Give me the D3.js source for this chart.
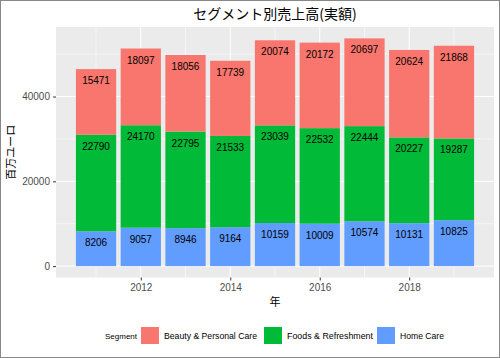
<!DOCTYPE html>
<html><head><meta charset="utf-8">
<script src="https://cdn.jsdelivr.net/npm/d3@7"></script>
<style>body{margin:0;background:#fff}svg{display:block}</style>
</head><body>
<script>
const years = [2011, 2012, 2013, 2014, 2015, 2016, 2017, 2018, 2019];
const homeCare = [8206, 9057, 8946, 9164, 10159, 10009, 10574, 10131, 10825];
const foods = [22790, 24170, 22795, 21533, 23039, 22532, 22444, 20227, 19287];
const beauty = [15471, 18097, 18056, 17739, 20074, 20172, 20697, 20624, 21868];
const segments = ["Beauty & Personal Care", "Foods & Refreshment", "Home Care"];
const colors = ["#F8766D", "#00BA38", "#619CFF"];
const xTicks = [2012, 2014, 2016, 2018];
const yTicks = [0, 20000, 40000];

const W = 500, H = 358;
const font = "'Liberation Sans', Arial, 'Noto Sans CJK JP', sans-serif";
const cjk = "'Noto Sans CJK JP', 'Liberation Sans', sans-serif";
const svg = d3.select("body").append("svg").attr("width", W).attr("height", H)
  .style("font-family", font);
svg.append("rect").attr("x", 0.5).attr("y", 0.5).attr("width", W - 1).attr("height", H - 1)
  .attr("fill", "#fff").attr("stroke", "#888");

const pL = 56, pR = 494, pT = 27, pB = 277.5;
const rows = years.map((y, i) => ({year: y, "Home Care": homeCare[i], "Foods & Refreshment": foods[i], "Beauty & Personal Care": beauty[i]}));
const stackOrder = ["Home Care", "Foods & Refreshment", "Beauty & Personal Care"];
const series = d3.stack().keys(stackOrder)(rows);
const maxT = d3.max(series[series.length - 1], d => d[1]);

const x = d3.scaleLinear().domain([2010.55 - 0.445, 2019.45 + 0.445]).range([pL, pR]);
const y = d3.scaleLinear().domain([-maxT * 0.05, maxT * 1.05]).range([pB, pT]);
const color = d3.scaleOrdinal().domain(segments).range(colors);

svg.append("rect").attr("x", pL).attr("y", pT).attr("width", pR - pL).attr("height", pB - pT).attr("fill", "#EBEBEB");
const g = svg.append("g");
[10000, 30000, 50000].forEach(v => g.append("line").attr("x1", pL).attr("x2", pR).attr("y1", y(v)).attr("y2", y(v)).attr("stroke", "#fff").attr("stroke-width", 0.5));
[2011, 2013, 2015, 2017, 2019].forEach(v => g.append("line").attr("y1", pT).attr("y2", pB).attr("x1", x(v)).attr("x2", x(v)).attr("stroke", "#fff").attr("stroke-width", 0.5));
yTicks.forEach(v => g.append("line").attr("x1", pL).attr("x2", pR).attr("y1", y(v)).attr("y2", y(v)).attr("stroke", "#fff").attr("stroke-width", 1));
xTicks.forEach(v => g.append("line").attr("y1", pT).attr("y2", pB).attr("x1", x(v)).attr("x2", x(v)).attr("stroke", "#fff").attr("stroke-width", 1));

const bw = x(2011.45) - x(2010.55);
series.forEach(s => {
  svg.append("g").selectAll("rect").data(s).join("rect")
    .attr("x", d => x(d.data.year) - bw / 2).attr("width", bw)
    .attr("y", d => y(d[1])).attr("height", d => y(d[0]) - y(d[1]))
    .attr("fill", color(s.key));
  svg.append("g").selectAll("text").data(s).join("text")
    .attr("x", d => x(d.data.year)).attr("y", d => y(d[1]) + 15)
    .attr("text-anchor", "middle").attr("font-size", 10).attr("fill", "#000")
    .text(d => d.data[s.key]);
});

const xa = svg.append("g").attr("transform", `translate(0,${pB})`)
  .call(d3.axisBottom(x).tickValues(xTicks).tickFormat(d3.format("d")).tickSize(3).tickPadding(3));
const ya = svg.append("g").attr("transform", `translate(${pL},0)`)
  .call(d3.axisLeft(y).tickValues(yTicks).tickFormat(d3.format("d")).tickSize(3).tickPadding(3));
[xa, ya].forEach(a => {
  a.select(".domain").remove();
  a.selectAll("line").attr("stroke", "#333");
  a.selectAll("text").attr("fill", "#4D4D4D").attr("font-size", 10).attr("font-family", font);
});

svg.append("text").attr("x", (pL + pR) / 2).attr("y", 19).attr("text-anchor", "middle")
  .attr("font-family", cjk).attr("font-size", 14).attr("fill", "#000").text("セグメント別売上高(実額)");
svg.append("text").attr("x", (pL + pR) / 2).attr("y", 306).attr("text-anchor", "middle")
  .attr("font-family", cjk).attr("font-size", 11).attr("fill", "#000").text("年");
svg.append("text").attr("transform", `translate(15,${(pT + pB) / 2}) rotate(-90)`).attr("text-anchor", "middle")
  .attr("font-family", cjk).attr("font-size", 11).attr("fill", "#000").text("百万ユーロ");

const leg = svg.append("g");
leg.append("text").attr("x", 105).attr("y", 339).attr("font-size", 8).attr("fill", "#000").text("Segment");
const keyX = [141, 264, 377];
const labW = [93, 86, 44];
segments.forEach((s, i) => {
  leg.append("rect").attr("x", keyX[i]).attr("y", 327).attr("width", 18).attr("height", 17).attr("fill", colors[i]);
  leg.append("text").attr("x", keyX[i] + 23).attr("y", 339).attr("font-size", 9.5).attr("fill", "#000")
    .attr("textLength", labW[i]).attr("lengthAdjust", "spacingAndGlyphs").text(s);
});
</script>
</body></html>
